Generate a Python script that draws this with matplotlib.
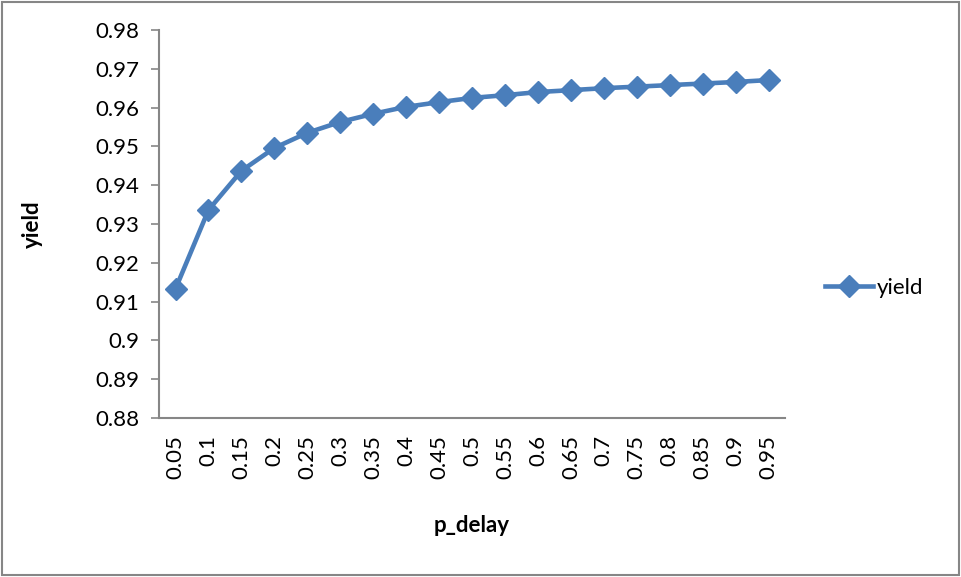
import matplotlib.pyplot as plt
from matplotlib.patches import Rectangle

plt.rcParams['font.family'] = ['Lato', 'DejaVu Sans']

# data
p_delay = ['0.05', '0.1', '0.15', '0.2', '0.25', '0.3', '0.35', '0.4', '0.45', '0.5',
           '0.55', '0.6', '0.65', '0.7', '0.75', '0.8', '0.85', '0.9', '0.95']
yield_vals = [0.9133, 0.9336, 0.9437, 0.9496, 0.9535, 0.9563, 0.9584, 0.9602, 0.9614, 0.9625,
              0.9632, 0.9640, 0.9645, 0.9650, 0.9654, 0.9658, 0.9662, 0.9666, 0.9671]
y_ticks = [0.88, 0.89, 0.9, 0.91, 0.92, 0.93, 0.94, 0.95, 0.96, 0.97, 0.98]

blue = '#4A7EBB'
gray = '#868686'

fig = plt.figure(figsize=(9.61, 5.77), dpi=100)
ax = fig.add_axes([0.1655, 0.2756, 0.6514, 0.6724])

xs = list(range(len(p_delay)))
ax.plot(xs, yield_vals, color=blue, linewidth=3.3, marker='D', markersize=11,
        label='yield')

ax.set_xlim(-0.5, len(p_delay) - 0.5)
ax.set_ylim(0.88, 0.98)
ax.set_yticks(y_ticks)
ax.set_yticklabels(['%g' % v for v in y_ticks], fontsize=16)
ax.set_xticks(xs)
ax.set_xticklabels(p_delay, rotation=90, fontsize=16)
ax.tick_params(axis='x', length=0, pad=12)
ax.tick_params(axis='y', length=6, width=1.2, color=gray, pad=8)

for s in ['top', 'right']:
    ax.spines[s].set_visible(False)
for s in ['left', 'bottom']:
    ax.spines[s].set_color(gray)
    ax.spines[s].set_linewidth(1.5)

ax.set_ylabel('yield', fontsize=16, fontweight='bold', labelpad=38)
ax.set_xlabel('p_delay', fontsize=16, fontweight='bold', labelpad=26)

ax.legend(loc='center left', bbox_to_anchor=(0.858, 0.501), bbox_transform=fig.transFigure,
          frameon=False, fontsize=16, handlelength=2.2, handletextpad=0.15,
          borderpad=0, borderaxespad=0)

# outer chart border
fig.patches.append(Rectangle((0.002, 0.003), 0.996, 0.994, transform=fig.transFigure,
                             fill=False, edgecolor=gray, linewidth=1.5))

fig.savefig('out.png', dpi=100)
